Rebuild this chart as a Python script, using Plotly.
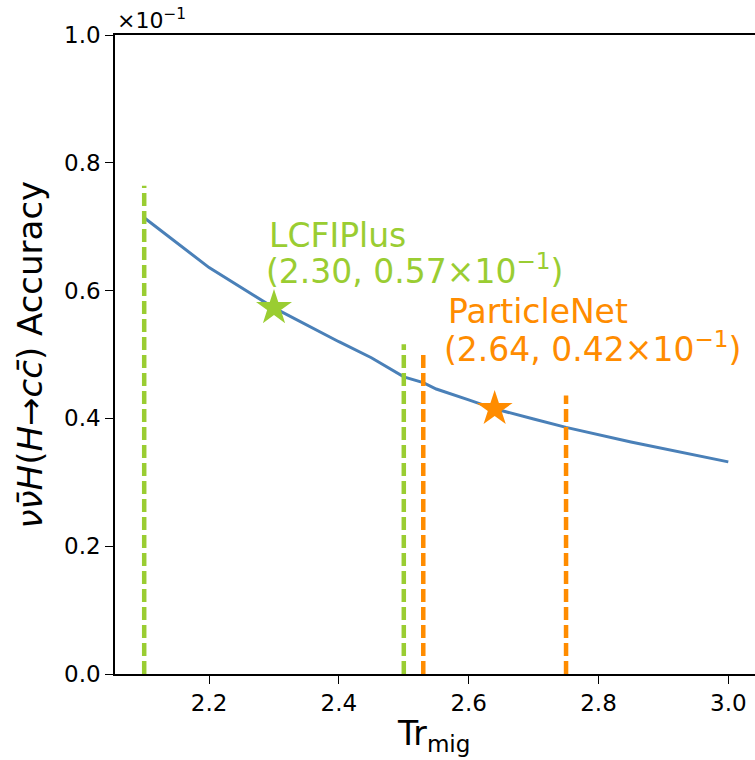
import plotly.graph_objects as go

# Curve data (y shown in units of 1e-1)
tr_mig = [2.10, 2.20, 2.30, 2.40, 2.45, 2.50, 2.53, 2.55, 2.60, 2.64, 2.70, 2.75, 2.85, 3.00]
accuracy = [0.714, 0.636, 0.573, 0.520, 0.495, 0.465, 0.456, 0.446, 0.429, 0.415, 0.399, 0.386, 0.363, 0.332]

# Working points
lcfi_x, lcfi_y = 2.30, 0.573
pnet_x, pnet_y = 2.64, 0.415
lcfi_label_y = 0.57
pnet_label_y = 0.42

# Vertical dashed markers
lcfi_vx = [2.10, 2.50]
lcfi_vh = [0.764, 0.516]
pnet_vx = [2.53, 2.75]
pnet_vh = [0.506, 0.436]

x_ticks = [2.2, 2.4, 2.6, 2.8, 3.0]
y_ticks = [0.0, 0.2, 0.4, 0.6, 0.8, 1.0]

BLUE = "#4a80b8"
GREEN = "#9acd32"
ORANGE = "#ff8c00"
FONT = "DejaVu Sans"

fig = go.Figure()

fig.add_trace(go.Scatter(x=tr_mig, y=accuracy, mode="lines",
                         line=dict(color=BLUE, width=3), showlegend=False))

for vx, vh in zip(lcfi_vx, lcfi_vh):
    fig.add_trace(go.Scatter(x=[vx, vx], y=[0, vh], mode="lines",
                             line=dict(color=GREEN, width=4.5, dash="13px,5px"),
                             showlegend=False))
for vx, vh in zip(pnet_vx, pnet_vh):
    fig.add_trace(go.Scatter(x=[vx, vx], y=[0, vh], mode="lines",
                             line=dict(color=ORANGE, width=4.5, dash="13px,5px"),
                             showlegend=False))

fig.add_trace(go.Scatter(x=[lcfi_x], y=[lcfi_y], mode="markers",
                         marker=dict(symbol="star", size=27, color=GREEN, line=dict(width=0)),
                         showlegend=False))
fig.add_trace(go.Scatter(x=[pnet_x], y=[pnet_y], mode="markers",
                         marker=dict(symbol="star", size=27, color=ORANGE, line=dict(width=0)),
                         showlegend=False))


def label(x, y, text, color):
    fig.add_annotation(x=x, y=y, xref="x", yref="y", xanchor="left", yanchor="middle",
                       text=text, align="left", showarrow=False, borderpad=0,
                       font=dict(family=FONT, size=33, color=color))


label(2.2915, 0.6867, "LCFIPlus", GREEN)
label(2.2855, 0.6330, f"({lcfi_x:.2f}, {lcfi_label_y:.2f}×10<sup>−1</sup>)", GREEN)
label(2.5660, 0.5676, "ParticleNet", ORANGE)
label(2.5600, 0.5110, f"({pnet_x:.2f}, {pnet_label_y:.2f}×10<sup>−1</sup>)", ORANGE)

# Offset text
fig.add_annotation(x=0, y=1, xref="paper", yref="paper", xanchor="left", yanchor="bottom",
                   text="×10<sup>−1</sup>", showarrow=False,
                   font=dict(family=FONT, size=22, color="black"))

# Axis titles
fig.add_annotation(x=-0.133, y=0.5, xref="paper", yref="paper", xanchor="center", yanchor="middle",
                   text="<i>νν̄H</i>(<i>H</i>→<i>cc̄</i>) Accuracy", textangle=-90, showarrow=False,
                   font=dict(family=FONT, size=34, color="black"))
fig.add_annotation(x=0.497, y=-0.097, xref="paper", yref="paper", xanchor="center", yanchor="middle",
                   text="Tr<sub>mig</sub>", showarrow=False,
                   font=dict(family=FONT, size=33, color="black"))

fig.update_layout(
    width=755, height=760,
    margin=dict(l=115, r=0, t=35, b=86),
    paper_bgcolor="white", plot_bgcolor="white",
    font=dict(family=FONT, size=23, color="black"),
)
fig.update_xaxes(range=[2.055, 2.055 + 640 / 649], tickvals=x_ticks,
                 ticktext=[f"{v:.1f}" for v in x_ticks],
                 showgrid=False, zeroline=False, showline=True, linecolor="black",
                 linewidth=1.5, mirror=True, ticks="outside", ticklen=8, tickwidth=1.3,
                 tickcolor="black")
fig.update_yaxes(range=[0, 1.0], tickvals=y_ticks,
                 ticktext=[f"{v:.1f}" for v in y_ticks],
                 showgrid=False, zeroline=False, showline=True, linecolor="black",
                 linewidth=1.5, mirror=False, ticks="outside", ticklen=8, tickwidth=1.3,
                 tickcolor="black")

fig.write_html("out.html", config={"displayModeBar": False},
               post_script="document.body.style.margin='0';document.body.style.padding='0';document.body.style.overflow='hidden';")
